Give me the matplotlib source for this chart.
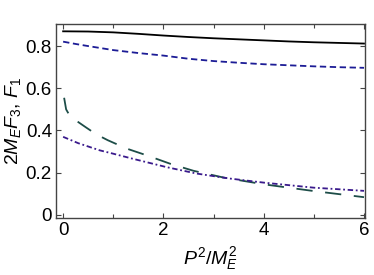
import numpy as np
import matplotlib
matplotlib.use('Agg')
import matplotlib.pyplot as plt
from matplotlib.ticker import MultipleLocator

plt.rcParams['font.family'] = ['Liberation Sans', 'DejaVu Sans']
plt.rcParams['mathtext.fontset'] = 'custom'
plt.rcParams['mathtext.rm'] = 'Liberation Sans'
plt.rcParams['mathtext.it'] = 'Liberation Sans:italic'

# values
x_solid = [0, 0.5, 1, 1.5, 2, 2.5, 3, 3.5, 4, 4.5, 5, 5.5, 6]
y_solid = [0.870, 0.869, 0.865, 0.858, 0.850, 0.843, 0.837, 0.832, 0.827, 0.822, 0.818, 0.815, 0.812]

x_blue = [0, 0.25, 0.5, 1, 1.5, 2, 2.5, 3, 3.5, 4, 4.5, 5, 5.5, 6]
y_blue = [0.821, 0.810, 0.800, 0.781, 0.767, 0.755, 0.740, 0.729, 0.721, 0.714, 0.709, 0.704, 0.700, 0.697]

x_green = [0.02, 0.06, 0.12, 0.24, 0.46, 0.66, 0.89, 1.27, 1.67, 2.14, 2.6, 3.2, 4.0, 5.0, 6.0]
y_green = [0.555, 0.500, 0.475, 0.450, 0.414, 0.382, 0.354, 0.314, 0.282, 0.242, 0.209, 0.177, 0.145, 0.113, 0.084]

x_dd = [0, 0.3, 0.73, 1.0, 1.39, 2.07, 2.66, 3.3, 4.0, 5.0, 6.0]
y_dd = [0.370, 0.340, 0.306, 0.290, 0.266, 0.226, 0.196, 0.173, 0.153, 0.129, 0.114]

fig = plt.figure(figsize=(3.74, 2.75), dpi=100)
ax = fig.add_axes([0.150, 0.207, 0.826, 0.706])

ax.plot(x_solid, y_solid, color='black', lw=1.3, ls='-')
ax.plot(x_blue, y_blue, color='#1c1c96', lw=1.3, ls=(0, (3.5, 2)))
ax.plot(x_green, y_green, color='#1d4d48', lw=1.3, ls=(0, (9, 7)))
ax.plot(x_dd, y_dd, color='#3a1a8c', lw=1.3, ls=(0, (3, 1.5, 1, 1.5)))

ax.set_xlim(-0.14, 6.02)
ax.set_ylim(-0.015, 0.905)
ax.xaxis.set_minor_locator(MultipleLocator(1))
ax.set_xticks([0, 2, 4, 6])
ax.set_xticklabels(['0', '2', '4', '6'])
ax.set_yticks([0, 0.2, 0.4, 0.6, 0.8])
ax.set_yticklabels(['0', '0.2', '0.4', '0.6', '0.8'])
ax.tick_params(which='both', direction='in', top=True, right=True,
               labelsize=13.5, color='#444444', width=0.8)
ax.tick_params(which='major', length=3.5, pad=3)
ax.tick_params(which='minor', length=3)
for s in ax.spines.values():
    s.set_color('#444444')
    s.set_linewidth(1.0)

ax.set_xlabel(r'$P^2/M_E^2$', fontsize=14, labelpad=4)
ax.set_ylabel(r'$2M_E F_3$, $F_1$', fontsize=14, labelpad=2)

fig.savefig('out.png', dpi=100)
